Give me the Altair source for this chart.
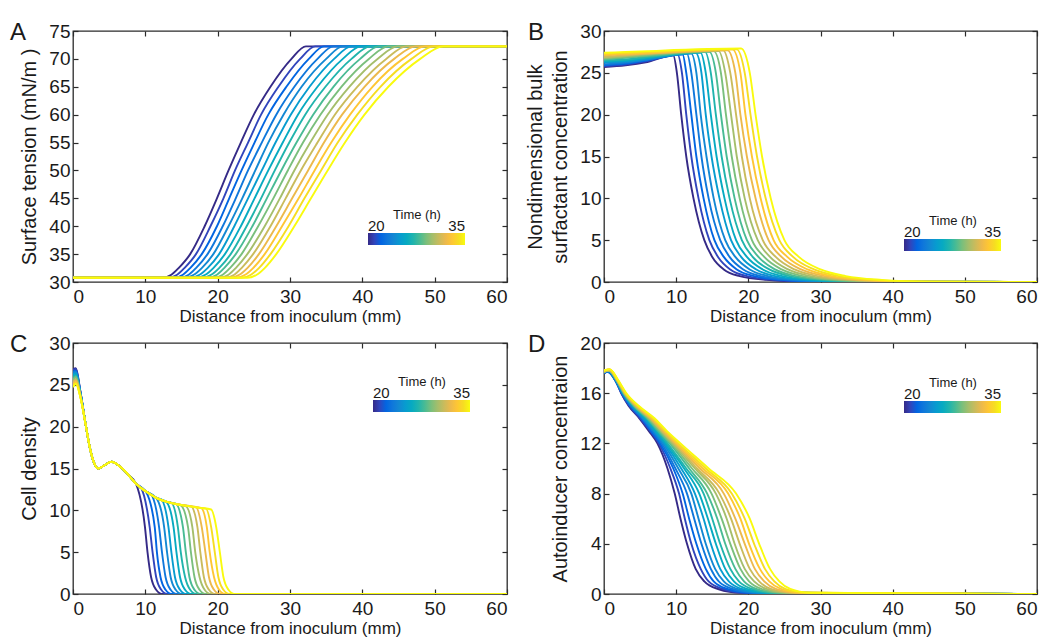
import altair as alt
import pandas as pd

FONT = "Liberation Sans"
INK = "#1a1a1a"
FRAME = "#2b2b2b"

TIMES = list(range(20, 36))
PARULA16 = ["#352a87", "#3145bc", "#0265e1", "#0f77db", "#1388d3", "#079ccf",
            "#07aac1", "#20b4ad", "#49bb94", "#7abf7c", "#a5be6b", "#cabb5c",
            "#ecb94c", "#fec634", "#f6dd22", "#f9fb0e"]

X_TICKS = [0, 10, 20, 30, 40, 50, 60]
A_Y_TICKS = [30, 35, 40, 45, 50, 55, 60, 65, 70, 75]
B_Y_TICKS = [0, 5, 10, 15, 20, 25, 30]
C_Y_TICKS = [0, 5, 10, 15, 20, 25, 30]
D_Y_TICKS = [0, 4, 8, 12, 16, 20]
LEGEND_TICKS = [20, 35]

# ---------------- Panel A : surface tension ----------------
A_LOW = 30.75
A_HIGH = 72.25
A_LEVELS = [30.75, 31.3, 32.5, 35, 40, 45, 50, 55, 60, 65, 70, 72.25]
A_X = [
    [12.3, 13.1, 13.9, 14.7, 15.4, 16.2, 17.0, 17.8, 18.6, 19.4, 20.2, 21.0, 21.7, 22.5, 23.3, 24.1],
    [13.6, 14.4, 15.2, 16.0, 16.7, 17.5, 18.3, 19.1, 19.9, 20.7, 21.5, 22.3, 23.0, 23.8, 24.6, 25.4],
    [14.6, 15.4, 16.2, 17.0, 17.8, 18.6, 19.4, 20.2, 20.9, 21.7, 22.5, 23.3, 24.1, 24.9, 25.7, 26.5],
    [16.2, 17.0, 17.8, 18.6, 19.4, 20.2, 21.0, 21.8, 22.5, 23.3, 24.1, 24.9, 25.7, 26.5, 27.3, 28.1],
    [18.2, 19.0, 19.9, 20.7, 21.5, 22.3, 23.2, 24.0, 24.8, 25.6, 26.5, 27.3, 28.1, 28.9, 29.8, 30.6],
    [19.9, 20.8, 21.6, 22.5, 23.4, 24.2, 25.1, 26.0, 26.8, 27.7, 28.6, 29.4, 30.3, 31.2, 32.0, 32.9],
    [21.5, 22.4, 23.3, 24.2, 25.2, 26.1, 27.0, 27.9, 28.8, 29.7, 30.6, 31.5, 32.5, 33.4, 34.3, 35.2],
    [23.2, 24.2, 25.1, 26.1, 27.0, 28.0, 29.0, 29.9, 30.9, 31.8, 32.8, 33.8, 34.7, 35.7, 36.6, 37.6],
    [25.0, 26.0, 27.0, 28.1, 29.1, 30.1, 31.1, 32.1, 33.2, 34.2, 35.2, 36.2, 37.2, 38.3, 39.3, 40.3],
    [27.3, 28.4, 29.5, 30.6, 31.6, 32.7, 33.8, 34.9, 36.0, 37.1, 38.2, 39.3, 40.3, 41.4, 42.5, 43.6],
    [30.2, 31.4, 32.6, 33.8, 35.0, 36.1, 37.3, 38.5, 39.7, 40.9, 42.1, 43.3, 44.4, 45.6, 46.8, 48.0],
    [32.2, 33.5, 34.7, 36.0, 37.3, 38.5, 39.8, 41.1, 42.3, 43.6, 44.9, 46.1, 47.4, 48.7, 49.9, 51.2],
]

# ---------------- Panel B : bulk surfactant ----------------
B_PLATEAU_X = [0, 3, 6]
B_PLATEAU_Y = [
    [25.7, 25.8, 25.9, 26.0, 26.2, 26.3, 26.4, 26.5, 26.6, 26.7, 26.8, 26.9, 27.1, 27.2, 27.3, 27.4],
    [25.9, 26.0, 26.1, 26.2, 26.3, 26.4, 26.5, 26.6, 26.8, 26.9, 27.0, 27.1, 27.2, 27.3, 27.4, 27.5],
    [26.3, 26.4, 26.5, 26.6, 26.6, 26.7, 26.8, 26.9, 27.0, 27.1, 27.2, 27.3, 27.3, 27.4, 27.5, 27.6],
]
B_PEAK_X = [9.6, 10.2, 10.9, 11.5, 12.1, 12.7, 13.4, 14.0, 14.6, 15.2, 15.9, 16.5, 17.1, 17.8, 18.4, 19.0]
B_PEAK_Y = [27.1, 27.2, 27.2, 27.3, 27.3, 27.4, 27.4, 27.5, 27.5, 27.6, 27.6, 27.7, 27.7, 27.8, 27.8, 27.9]
B_DROP_LEVELS = [25, 20, 15, 10, 5, 3, 1.5, 0.7, 0.25, 0.05]
B_DROP_X = [
    [10.1, 10.8, 11.4, 12.1, 12.8, 13.5, 14.1, 14.8, 15.5, 16.2, 16.8, 17.5, 18.2, 18.9, 19.5, 20.2],
    [10.7, 11.4, 12.1, 12.8, 13.4, 14.1, 14.8, 15.5, 16.2, 16.9, 17.6, 18.3, 18.9, 19.6, 20.3, 21.0],
    [11.4, 12.1, 12.8, 13.5, 14.2, 14.9, 15.6, 16.3, 17.0, 17.7, 18.4, 19.1, 19.8, 20.5, 21.2, 21.9],
    [12.4, 13.1, 13.8, 14.5, 15.2, 16.0, 16.7, 17.4, 18.1, 18.8, 19.5, 20.2, 21.0, 21.7, 22.4, 23.1],
    [13.9, 14.6, 15.3, 16.1, 16.8, 17.6, 18.3, 19.1, 19.8, 20.5, 21.3, 22.0, 22.8, 23.5, 24.3, 25.0],
    [15.0, 15.8, 16.6, 17.4, 18.2, 19.0, 19.8, 20.6, 21.4, 22.2, 23.0, 23.8, 24.6, 25.4, 26.2, 27.0],
    [16.6, 17.5, 18.4, 19.3, 20.2, 21.1, 22.0, 22.9, 23.7, 24.6, 25.5, 26.4, 27.3, 28.2, 29.1, 30.0],
    [18.8, 19.8, 20.8, 21.7, 22.7, 23.7, 24.7, 25.7, 26.6, 27.6, 28.6, 29.6, 30.6, 31.5, 32.5, 33.5],
    [22.5, 23.6, 24.6, 25.7, 26.8, 27.8, 28.9, 30.0, 31.0, 32.1, 33.2, 34.2, 35.3, 36.4, 37.4, 38.5],
    [28.0, 29.1, 30.3, 31.4, 32.5, 33.7, 34.8, 35.9, 37.1, 38.2, 39.3, 40.5, 41.6, 42.7, 43.9, 45.0],
]

# ---------------- Panel C : cell density ----------------
C_START_X = [0, 0.4, 1.0]
C_START_Y = [
    [26.9, 26.8, 26.6, 26.5, 26.3, 26.2, 26.0, 25.9, 25.7, 25.6, 25.4, 25.3, 25.1, 25.0, 24.8, 24.7],
    [27.0, 26.9, 26.7, 26.6, 26.5, 26.4, 26.2, 26.1, 26.0, 25.9, 25.7, 25.6, 25.5, 25.3, 25.2, 25.1],
    [24.3, 24.3, 24.2, 24.2, 24.1, 24.1, 24.0, 24.0, 23.9, 23.9, 23.8, 23.8, 23.7, 23.7, 23.6, 23.6],
]
C_ENV_X = [1.8, 2.3, 2.9, 3.5, 4.2, 5.3, 6.4, 7.6, 8.7, 10.0, 11.5, 13.0, 14.5, 16.0, 17.5]
C_ENV_Y = [20.0, 17.6, 15.7, 15.0, 15.3, 15.8, 15.3, 14.3, 13.2, 12.3, 11.5, 11.0, 10.7, 10.5, 10.3]
C_DEP_X = [8.7, 9.4, 10.1, 10.8, 11.5, 12.2, 12.9, 13.6, 14.2, 14.9, 15.6, 16.3, 17.0, 17.7, 18.4, 19.1]
C_DEP_Y = [13.2, 12.7, 12.2, 11.9, 11.5, 11.3, 11.0, 10.9, 10.8, 10.6, 10.5, 10.5, 10.4, 10.3, 10.2, 10.1]
C_DROP_LEVELS = [8, 5, 2, 0.5, 0]
C_DROP_X = [
    [9.95, 10.6, 11.3, 11.9, 12.6, 13.2, 13.9, 14.5, 15.2, 15.9, 16.5, 17.2, 17.8, 18.5, 19.1, 19.8],
    [10.3, 11.0, 11.6, 12.3, 13.0, 13.6, 14.3, 14.9, 15.6, 16.3, 16.9, 17.6, 18.3, 18.9, 19.6, 20.3],
    [10.8, 11.5, 12.1, 12.8, 13.5, 14.1, 14.8, 15.5, 16.1, 16.8, 17.5, 18.1, 18.8, 19.5, 20.1, 20.8],
    [11.5, 12.2, 12.8, 13.5, 14.2, 14.8, 15.5, 16.2, 16.8, 17.5, 18.2, 18.8, 19.5, 20.2, 20.8, 21.5],
    [12.3, 13.0, 13.6, 14.3, 15.0, 15.6, 16.3, 17.0, 17.6, 18.3, 19.0, 19.6, 20.3, 21.0, 21.6, 22.3],
]

# ---------------- Panel D : autoinducer ----------------
D_START_Y = [17.6, 17.6, 17.6, 17.6, 17.7, 17.7, 17.7, 17.7, 17.7, 17.7, 17.7, 17.7, 17.8, 17.8, 17.8, 17.8]
D_PEAK_X = [0.5, 0.5, 0.5, 0.6, 0.6, 0.6, 0.6, 0.6, 0.7, 0.7, 0.7, 0.7, 0.7, 0.8, 0.8, 0.8]
D_PEAK_Y = [17.7, 17.7, 17.7, 17.7, 17.8, 17.8, 17.8, 17.8, 17.8, 17.8, 17.8, 17.8, 17.9, 17.9, 17.9, 17.9]
D_LEVELS = [17, 16, 15, 14, 13, 12, 10, 8, 6, 4, 2, 1, 0.4, 0.1]
D_X = [
    [1.6, 1.6, 1.6, 1.6, 1.7, 1.7, 1.7, 1.8, 1.8, 1.8, 1.8, 1.9, 1.9, 1.9, 2.0, 2.0],
    [2.4, 2.4, 2.5, 2.5, 2.6, 2.6, 2.7, 2.7, 2.7, 2.8, 2.8, 2.9, 2.9, 3.0, 3.0, 3.1],
    [3.4, 3.5, 3.6, 3.7, 3.8, 3.9, 4.0, 4.1, 4.1, 4.2, 4.3, 4.4, 4.5, 4.6, 4.7, 4.8],
    [4.9, 5.0, 5.2, 5.3, 5.4, 5.6, 5.7, 5.9, 6.0, 6.1, 6.3, 6.4, 6.5, 6.7, 6.8, 7.0],
    [6.2, 6.4, 6.5, 6.7, 6.9, 7.0, 7.2, 7.4, 7.5, 7.7, 7.9, 8.0, 8.2, 8.4, 8.5, 8.7],
    [7.4, 7.6, 7.8, 8.0, 8.2, 8.4, 8.6, 8.8, 9.1, 9.3, 9.5, 9.7, 9.9, 10.1, 10.3, 10.6],
    [8.8, 9.2, 9.6, 9.9, 10.3, 10.7, 11.1, 11.4, 11.8, 12.2, 12.6, 12.9, 13.3, 13.7, 14.1, 14.5],
    [9.8, 10.4, 10.9, 11.5, 12.1, 12.6, 13.2, 13.8, 14.3, 14.9, 15.5, 16.0, 16.6, 17.2, 17.7, 18.3],
    [10.6, 11.2, 11.8, 12.5, 13.1, 13.8, 14.4, 15.0, 15.7, 16.3, 17.0, 17.6, 18.2, 18.9, 19.5, 20.2],
    [11.5, 12.1, 12.8, 13.5, 14.1, 14.8, 15.5, 16.1, 16.8, 17.5, 18.1, 18.8, 19.5, 20.1, 20.8, 21.5],
    [12.7, 13.4, 14.1, 14.8, 15.4, 16.1, 16.8, 17.5, 18.2, 18.9, 19.5, 20.2, 20.9, 21.6, 22.3, 23.0],
    [13.9, 14.5, 15.2, 15.9, 16.6, 17.3, 18.0, 18.7, 19.4, 20.1, 20.8, 21.5, 22.2, 22.9, 23.6, 24.3],
    [15.8, 16.5, 17.1, 17.8, 18.5, 19.1, 19.8, 20.5, 21.1, 21.8, 22.5, 23.1, 23.8, 24.5, 25.1, 25.8],
    [19.0, 19.6, 20.3, 20.9, 21.5, 22.2, 22.8, 23.4, 24.1, 24.7, 25.3, 26.0, 26.6, 27.2, 27.9, 28.5],
]
X_END = 60.0


def to_frame(curves):
    rows = []
    for t, pts in zip(TIMES, curves):
        for x, y in pts:
            rows.append({"time": t, "x": x, "y": y})
    return pd.DataFrame(rows)


def data_a():
    curves = []
    for k in range(len(TIMES)):
        pts = [(0.0, A_LOW)]
        pts += [(row[k], lv) for lv, row in zip(A_LEVELS, A_X)]
        pts.append((X_END, A_HIGH))
        curves.append(pts)
    return to_frame(curves)


def data_b():
    curves = []
    for k in range(len(TIMES)):
        pts = [(x, row[k]) for x, row in zip(B_PLATEAU_X, B_PLATEAU_Y)]
        pts.append((B_PEAK_X[k], B_PEAK_Y[k]))
        pts += [(row[k], lv) for lv, row in zip(B_DROP_LEVELS, B_DROP_X)]
        pts.append((X_END, 0.0))
        curves.append(pts)
    return to_frame(curves)


def data_c():
    curves = []
    for k in range(len(TIMES)):
        pts = [(x, row[k]) for x, row in zip(C_START_X, C_START_Y)]
        pts += [(x, y) for x, y in zip(C_ENV_X, C_ENV_Y) if x < C_DEP_X[k] - 0.4]
        pts.append((C_DEP_X[k], C_DEP_Y[k]))
        pts += [(row[k], lv) for lv, row in zip(C_DROP_LEVELS, C_DROP_X)]
        pts.append((X_END, 0.0))
        curves.append(pts)
    return to_frame(curves)


def data_d():
    curves = []
    for k in range(len(TIMES)):
        pts = [(0.0, D_START_Y[k]), (D_PEAK_X[k], D_PEAK_Y[k])]
        pts += [(row[k], lv) for lv, row in zip(D_LEVELS, D_X)]
        pts.append((X_END, 0.0))
        curves.append(pts)
    return to_frame(curves)


PANEL_H = 251


def panel(df, letter, y_domain, y_ticks, y_title, leg_x, leg_y, width, letter_dx):
    color = alt.Color(
        "time:Q",
        scale=alt.Scale(type="linear", domain=[20, 35], range=PARULA16, interpolate="rgb",
                        nice=False, zero=False),
        legend=alt.Legend(
            orient="none", legendX=leg_x, legendY=leg_y, direction="horizontal",
            title="Time (h)", titleFont=FONT, titleFontSize=13, titleFontWeight="normal",
            titleColor=INK, titleAnchor="middle", titlePadding=11,
            gradientLength=97, gradientThickness=12, gradientStrokeWidth=0,
            values=LEGEND_TICKS,
            labelFont=FONT, labelFontSize=15, labelColor=INK,
            labelOffset={"expr": "-26"},
            labelOverlap=False,
            padding=0,
        ),
    )
    xs = alt.Scale(domain=[0, 60], nice=False, zero=False)
    ys = alt.Scale(domain=y_domain, nice=False, zero=False)
    lines = alt.Chart(df).mark_line(strokeWidth=1.9, interpolate="monotone", clip=True).encode(
        x=alt.X("x:Q", scale=xs, axis=alt.Axis(
            values=X_TICKS, orient="bottom", title="Distance from inoculum (mm)",
            titleFontSize=17, titlePadding=2, labelPadding=5, offset=-5, tickSize=5,
            domain=False, grid=False)),
        y=alt.Y("y:Q", scale=ys, axis=alt.Axis(
            values=y_ticks, orient="left", title=y_title, titleFontSize=20,
            titleLineHeight=25, titlePadding=9, labelPadding=3, offset=-5, tickSize=5,
            domain=False, grid=False)),
        color=color,
        detail="time:N",
    )
    frame_ticks = alt.Chart(df).mark_line(opacity=0).encode(
        x=alt.X("x:Q", scale=xs, axis=alt.Axis(
            values=X_TICKS, orient="top", title="", labels=False, offset=-5,
            tickSize=5, domain=False, grid=False)),
        y=alt.Y("y:Q", scale=ys, axis=alt.Axis(
            values=y_ticks, orient="right", title="", labels=False, offset=-5,
            tickSize=5, domain=False, grid=False)),
        detail="time:N",
    )
    return alt.layer(lines, frame_ticks).resolve_axis(
        x="independent", y="independent"
    ).properties(
        width=width, height=PANEL_H,
        title=alt.TitleParams(
            text=letter, anchor="start", frame="group", dx=letter_dx, offset=-23,
            fontSize=24, font=FONT, fontWeight="normal", color=INK),
    )


pa = panel(data_a(), "A", [30, 75], A_Y_TICKS, "Surface tension (mN/m )", 295, 178, 434, -63)
pb = panel(data_b(), "B", [0, 30], B_Y_TICKS,
           ["Nondimensional bulk", "surfactant concentration"], 300, 184, 433, -76)
pc = panel(data_c(), "C", [0, 30], C_Y_TICKS, "Cell density", 300, 33, 434, -63)
pd_ = panel(data_d(), "D", [0, 20], D_Y_TICKS, "Autoinducer concentraion", 300, 34, 433, -76)

chart = alt.concat(pa, pb, pc, pd_, columns=2, spacing={"row": 7, "column": 16}).resolve_scale(
    x="independent", y="independent", color="independent"
).resolve_legend(color="independent").properties(
    padding={"left": 1, "top": 12, "right": 0, "bottom": 0}
).configure_view(
    stroke=FRAME, strokeWidth=1.3
).configure_axis(
    labelFont=FONT, labelFontSize=19, labelColor=INK,
    titleFont=FONT, titleFontWeight="normal", titleColor=INK,
    tickColor=FRAME, tickWidth=1.2,
)

chart.save("out.html", embed_options={"renderer": "svg", "actions": False})
